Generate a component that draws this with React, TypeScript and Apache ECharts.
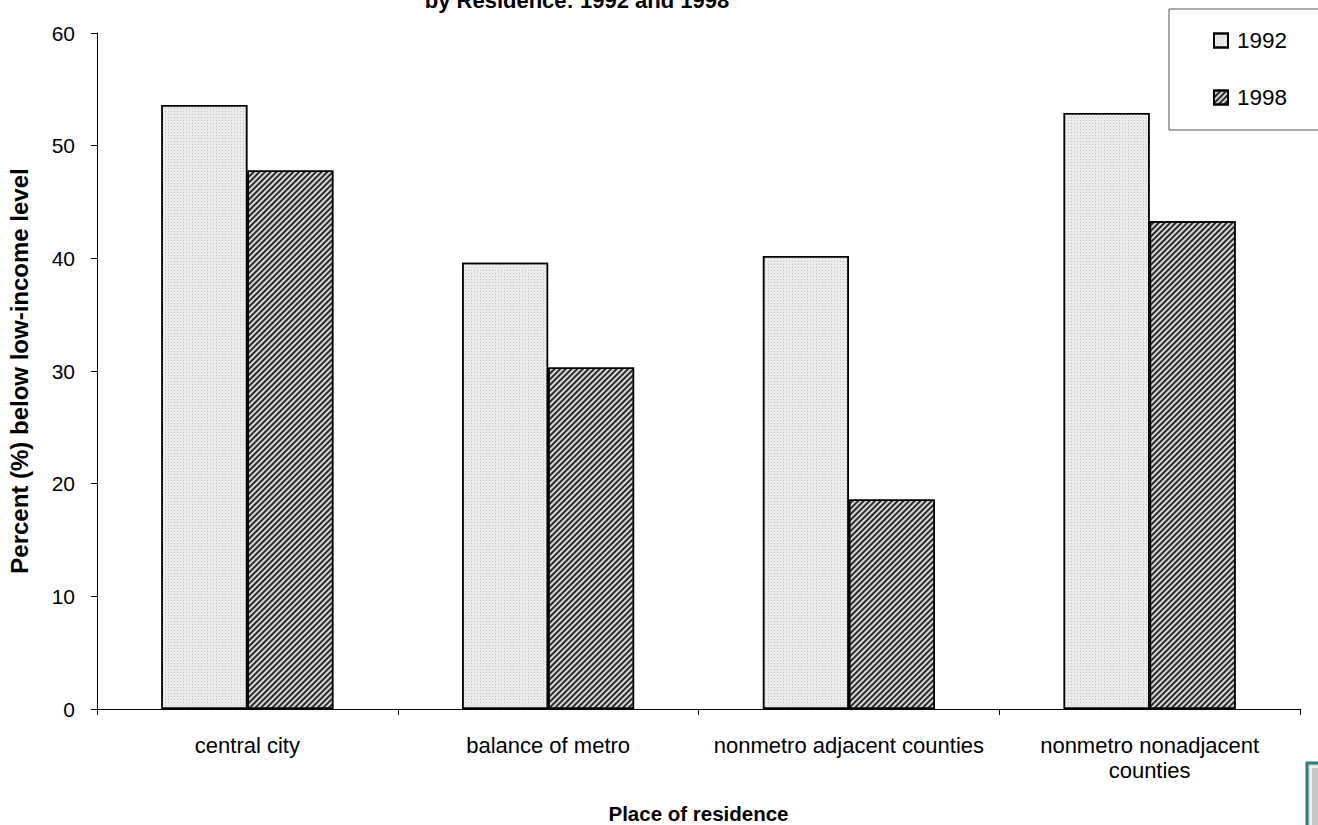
import React, { useEffect, useRef } from "react";
import * as echarts from "echarts";

const categories = [
  "central city",
  "balance of metro",
  "nonmetro adjacent counties",
  "nonmetro nonadjacent\ncounties",
];
const values1992 = [53.6, 39.6, 40.2, 52.9];
const values1998 = [47.8, 30.3, 18.6, 43.3];
const yTicks = { min: 0, max: 60, interval: 10 };

const FONT = "'Liberation Sans', Arial, sans-serif";

export default function App() {
  const ref = useRef<HTMLDivElement>(null);
  useEffect(() => {
    if (!ref.current) return;
    const chart = echarts.init(ref.current, null, { renderer: "svg" });
    chart.setOption({
      animation: false,
      backgroundColor: "#ffffff",
      textStyle: { fontFamily: FONT, color: "#000" },
      graphic: [
        {
          type: "text",
          x: 577,
          y: 0,
          style: {
            text: "by Residence: 1992 and 1998",
            font: `bold 22px ${FONT}`,
            fill: "#000",
            align: "center",
            verticalAlign: "middle",
          },
        },
        {
          type: "rect",
          shape: { x: 1307, y: 763, width: 30, height: 80 },
          style: { fill: "#dcdcdc", stroke: "#2b7f78", lineWidth: 3 },
        },
        {
          type: "rect",
          shape: { x: 1311, y: 767, width: 30, height: 80 },
          style: { fill: "#c8c8c8", stroke: "#f0f0f0", lineWidth: 2 },
        },
      ],
      legend: {
        orient: "vertical",
        left: 1169,
        top: 9,
        padding: [20, 60, 21, 44],
        itemGap: 34,
        itemWidth: 14,
        itemHeight: 14,
        borderColor: "#555",
        borderWidth: 1,
        backgroundColor: "#fff",
        icon: "rect",
        textStyle: { fontSize: 22.5, fontFamily: FONT, color: "#000", padding: [0, 0, 0, 4] },
        data: ["1992", "1998"],
      },
      grid: {
        left: 97,
        top: 33,
        right: 18,
        bottom: 116,
        containLabel: false,
        outerBoundsMode: "none",
      },
      xAxis: {
        type: "category",
        data: categories,
        axisLine: { lineStyle: { color: "#000", width: 1 } },
        axisTick: { show: true, length: 6, lineStyle: { color: "#000" } },
        axisLabel: {
          fontSize: 22,
          color: "#000",
          margin: 24,
          lineHeight: 25,
          interval: 0,
          fontFamily: FONT,
        },
        name: "Place of residence",
        nameLocation: "middle",
        nameGap: 94,
        nameTextStyle: { fontSize: 20.5, fontWeight: "bold", color: "#000", fontFamily: FONT },
      },
      yAxis: {
        type: "value",
        min: yTicks.min,
        max: yTicks.max,
        interval: yTicks.interval,
        splitLine: { show: false },
        axisLine: { show: true, lineStyle: { color: "#000", width: 1 } },
        axisTick: { show: true, length: 6, lineStyle: { color: "#000" } },
        axisLabel: { fontSize: 21, color: "#000", margin: 22, fontFamily: FONT },
        name: "Percent (%) below low-income level",
        nameLocation: "middle",
        nameGap: 66,
        nameTextStyle: { fontSize: 24, fontWeight: "bold", color: "#000", fontFamily: FONT },
      },
      series: [
        {
          name: "1992",
          type: "bar",
          data: values1992,
          barGap: "0%",
          barCategoryGap: "42.8%",
          itemStyle: {
            color: "#ebebeb",
            borderColor: "#000",
            borderWidth: 1.5,
            decal: {
              symbol: "rect",
              symbolSize: 1,
              dashArrayX: [1, 2],
              dashArrayY: [1, 2],
              color: "#c4c4c4",
            },
          },
        },
        {
          name: "1998",
          type: "bar",
          data: values1998,
          barGap: "0%",
          barCategoryGap: "42.8%",
          itemStyle: {
            color: "#d8d8d8",
            borderColor: "#000",
            borderWidth: 1.5,
            decal: {
              symbol: "rect",
              symbolSize: 1,
              dashArrayX: [1, 0],
              dashArrayY: [1.5, 1.5],
              rotation: -Math.PI / 4,
              color: "#2a2a2a",
            },
          },
        },
      ],
    });
    return () => chart.dispose();
  }, []);
  return (
    <div
      ref={ref}
      style={{ position: "absolute", left: 0, top: 0, width: 1318, height: 825 }}
    />
  );
}
